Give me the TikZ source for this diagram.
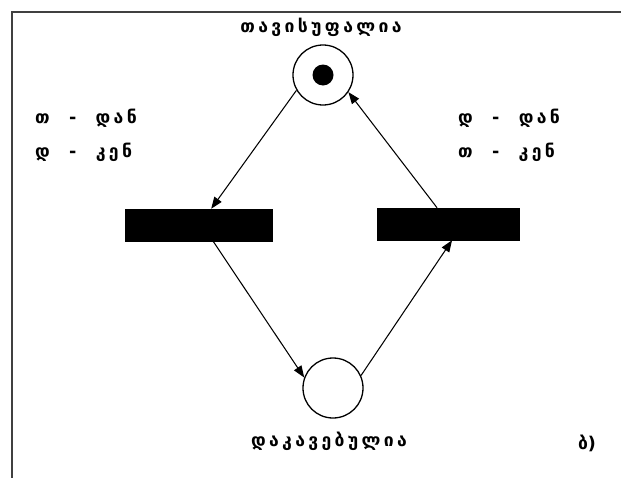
\documentclass[tikz,border=0pt]{standalone}
\usepackage{fontspec}
\newfontfamily\geo[LetterSpace=19]{DejaVu Sans}
\usetikzlibrary{arrows.meta}

\tikzset{
  posto/.style={circle, draw, line width=1.1pt, minimum size=1.8cm, inner sep=0pt},
  gettone/.style={circle, fill=black, minimum size=0.63cm, inner sep=0pt},
  transiz/.style={rectangle, fill=black, draw=black, minimum height=0.96cm, inner sep=0pt},
  arco/.style={-{Triangle[length=10pt,width=7.5pt]}, line width=0.9pt},
  etich/.style={font=\geo\bfseries\fontsize{15}{17}\selectfont, inner sep=0pt}
}

\begin{document}
\begin{tikzpicture}[x=0.03cm, y=-0.03cm]
  \useasboundingbox (0,0) rectangle (621,477);
  % Cornice
  \begin{scope}
    \clip (0,0) rectangle (621,477);
    \draw[line width=2.4pt, draw=black!75] (12,12) rectangle (640,500);
  \end{scope}

  % Posti e gettone
  \node[posto] (libero) at (323,75) {};
  \node[gettone] (tok) at (libero) {};
  \node[posto] (occupato) at (333,388) {};

  % Transizioni
  \node[transiz, minimum width=4.41cm] (tsx) at (198.5,225) {};
  \node[transiz, minimum width=4.26cm] (tdx) at (448,224) {};

  % Archi
  \draw[arco] (libero.210) -- (tsx.52);
  \draw[arco] (tsx.-48) -- (occupato.160);
  \draw[arco] (occupato.24) -- (tdx.-76);
  \draw[arco] (tdx.124) -- (libero.-34);

  % Etichette
  \node[etich] (lblib) at (321,27) {თავისუფალია};
  \node[etich] (lbocc) at (329,441) {დაკავებულია};
  \node[etich] (lbb) at (587,443) {\addfontfeature{LetterSpace=0}ბ)};
  \foreach \nm/\x/\y/\da/\verso in {sa/35/118/თ/დან, sb/35/152/დ/კენ,
                                    da/458/118/დ/დან, db/458/152/თ/კენ}
    \node[etich, anchor=west] (\nm) at (\x,\y) {\da\hspace{1.1em}-\hspace{1.1em}\verso};
\end{tikzpicture}
\end{document}
